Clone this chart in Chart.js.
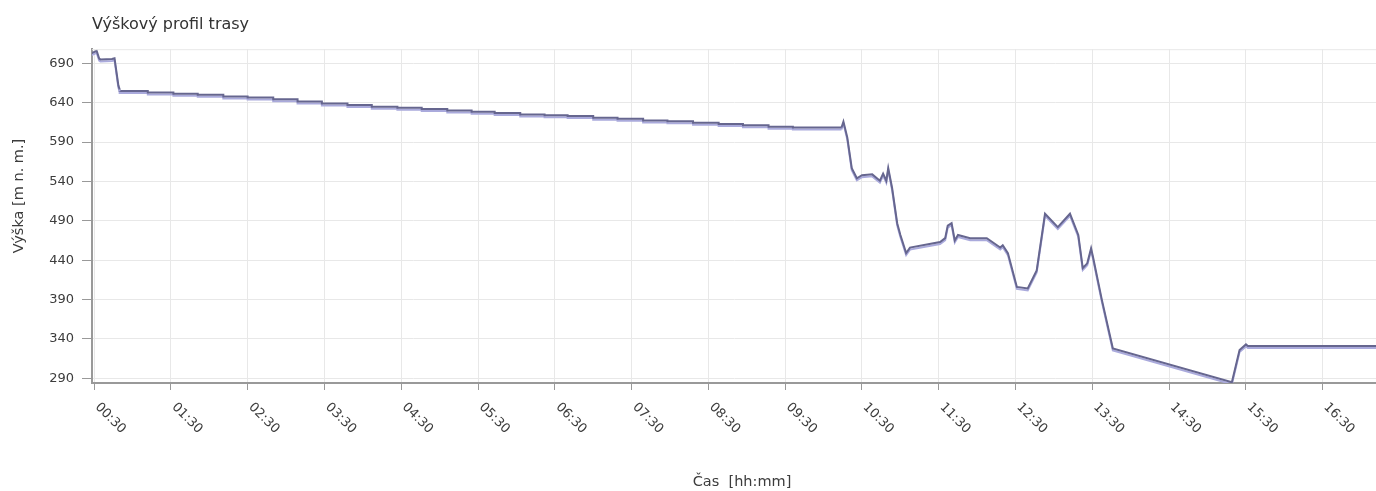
<!DOCTYPE html>
<html>
<head>
<meta charset="utf-8">
<script src="https://cdn.jsdelivr.net/npm/chart.js@4"></script>
<style>
  body { margin: 0; background: #fff; }
  #wrap { width: 1376px; height: 491px; }
</style>
</head>
<body>
<div id="wrap"><canvas id="profileChart"></canvas></div>
<script>
// x values are minutes from midnight, y is elevation in metres
const xTickMinutes = [30, 90, 150, 210, 270, 330, 390, 450, 510, 570, 630, 690, 750, 810, 870, 930, 990];
const xTickLabels = ["00:30", "01:30", "02:30", "03:30", "04:30", "05:30", "06:30", "07:30", "08:30",
  "09:30", "10:30", "11:30", "12:30", "13:30", "14:30", "15:30", "16:30"];
const yTicks = [290, 340, 390, 440, 490, 540, 590, 640, 690];

// start of the track
const headTimes = [28, 29.5, 32, 34, 35, 44, 46, 47.7, 49, 50];
const headElev = [703, 704, 706, 696, 695, 695.5, 696.5, 677, 662, 657];

// long slow descent, logged in small steps
const stairTimes = [50, 72, 92, 111, 131, 150, 170, 189, 208, 228, 247, 267, 286, 306, 325,
  343, 363, 382, 400, 420, 439, 459, 478, 498, 518, 537, 557, 576, 596, 614];
const stairElev = [657, 655, 653, 651.5, 650, 648, 646.5, 644.5, 641.5, 639, 637, 635, 633.5, 632, 630,
  628.5, 627, 625, 624, 623, 621, 619.5, 617.5, 616.5, 614.5, 613, 611.5, 609.5, 608.5, 608.5];

// afternoon part
const tailTimes = [614, 615.5, 618.5, 622, 626, 630, 638, 644, 646.5, 649, 650.5, 653.5, 657.5, 660, 664.5,
  667.5, 691, 695, 697, 700, 702.5, 705, 714.5, 727.5, 738, 740, 744, 751, 759.5, 766.5,
  773, 783, 792.5, 799, 802.5, 806, 809, 810.5, 817.5, 826, 919, 925, 930, 931.5, 1032];
const tailElev = [608.5, 616, 596, 557, 544, 548, 549, 541, 550, 541, 557, 532, 487, 472, 449,
  456, 463, 468, 484, 487, 465, 472, 468, 468, 456, 459, 449, 406, 404, 427,
  499, 482, 499, 472, 430, 436, 455, 444, 389, 328, 285, 326, 333, 331, 331];

const lineColor = "#66668f";
const shadowColor = "#aaaadc";
const gridColor = "#e8e8e8";
const axisColor = "#999999";
const textColor = "#3c3c3c";
const font = '"DejaVu Sans", sans-serif';

function toPoints(times, elev) {
  return times.map((t, i) => ({ x: t, y: elev[i] }));
}

function lineSet(times, elev, stepped) {
  return {
    data: toPoints(times, elev),
    borderColor: lineColor,
    borderWidth: 2,
    pointRadius: 0,
    stepped: stepped,
    tension: 0
  };
}

// shadow under the line, rotated x labels, axis titles
const decor = {
  id: "decor",
  beforeDatasetsDraw(chart) {
    const ctx = chart.ctx;
    ctx.save();
    ctx.shadowColor = shadowColor;
    ctx.shadowOffsetX = 0;
    ctx.shadowOffsetY = 2;
    ctx.shadowBlur = 0;
  },
  afterDatasetsDraw(chart) {
    chart.ctx.restore();
  },
  afterDraw(chart) {
    const { ctx, chartArea } = chart;
    const xs = chart.scales.x;
    ctx.save();
    ctx.strokeStyle = gridColor;
    ctx.lineWidth = 1;
    ctx.beginPath();
    ctx.moveTo(chartArea.left, chartArea.top + 0.5);
    ctx.lineTo(chartArea.right, chartArea.top + 0.5);
    ctx.stroke();

    ctx.fillStyle = textColor;
    ctx.font = "13px " + font;
    ctx.textAlign = "left";
    ctx.textBaseline = "middle";
    xTickMinutes.forEach((m, i) => {
      ctx.save();
      ctx.translate(xs.getPixelForValue(m) + 3, xs.top + 22);
      ctx.rotate(Math.PI / 4);
      ctx.fillText(xTickLabels[i], 0, 0);
      ctx.restore();
    });

    ctx.font = "14.5px " + font;
    ctx.textAlign = "center";
    ctx.fillText("Čas  [hh:mm]", (chartArea.left + chartArea.right) / 2 + 8, 482);

    ctx.save();
    ctx.translate(19, 196);
    ctx.rotate(-Math.PI / 2);
    ctx.fillText("Výška [m n. m.]", 0, 0);
    ctx.restore();
    ctx.restore();
  }
};

new Chart(document.getElementById("profileChart"), {
  type: "line",
  data: {
    datasets: [
      lineSet(headTimes, headElev, false),
      lineSet(stairTimes, stairElev, "after"),
      lineSet(tailTimes, tailElev, false)
    ]
  },
  options: {
    responsive: true,
    maintainAspectRatio: false,
    animation: false,
    layout: { padding: 0 },
    plugins: {
      legend: { display: false },
      tooltip: { enabled: false },
      title: {
        display: true,
        text: "Výškový profil trasy",
        align: "start",
        fullSize: false,
        color: "#333",
        font: { family: font, size: 16, weight: "normal" },
        padding: { top: 15, bottom: 15 }
      }
    },
    scales: {
      x: {
        type: "linear",
        min: 28.4,
        max: 1031.6,
        afterBuildTicks: (scale) => {
          scale.ticks = xTickMinutes.map(v => ({ value: v }));
        },
        afterFit: (scale) => { scale.height = 108; },
        ticks: { display: false },
        grid: { color: gridColor, tickColor: axisColor, tickLength: 7, lineWidth: 1 },
        border: { color: axisColor, width: 2 }
      },
      y: {
        type: "linear",
        min: 284,
        max: 708,
        afterBuildTicks: (scale) => {
          scale.ticks = yTicks.map(v => ({ value: v }));
        },
        afterFit: (scale) => { scale.width = 92; },
        ticks: { color: textColor, font: { family: font, size: 13 }, padding: 8 },
        grid: { color: gridColor, tickColor: axisColor, tickLength: 10, lineWidth: 1 },
        border: { color: axisColor, width: 2 }
      }
    }
  },
  plugins: [decor]
});
</script>
</body>
</html>
